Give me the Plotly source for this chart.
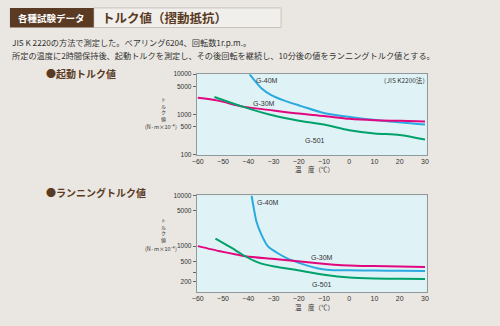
import plotly.graph_objects as go

# ---------------- data ----------------
temps_ticks = [-60, -50, -40, -30, -20, -10, 0, 10, 20, 30]

# Starting torque (起動トルク値)
s40_t = [-39.5, -34.8, -30.9, -25.7, -19.0, -10.1, 0.3, 13.3, 30]
s40_v = [10000, 4470, 3010, 2190, 1600, 1080, 860, 690, 553]
s30_t = [-60, -52, -42, -30, -20, -10, 0, 10, 20, 30]
s30_v = [2580, 2190, 1550, 1240, 1040, 907, 771, 711, 687, 661]
s501_t = [-53.4, -42, -30, -20, -10, 0, 10, 20, 30]
s501_v = [2700, 1530, 927, 690, 553, 402, 333, 305, 234]

# Running torque (ランニングトルク値)
r40_t = [-38.7, -36.8, -34.8, -32.2, -28.3, -24.4, -20.5, -16.6, -12.7, -8.8, -6, 0, 10, 20, 30]
r40_v = [10000, 3100, 1690, 987, 723, 566, 477, 412, 367, 340, 334, 332, 329, 327, 324]
r30_t = [-60, -51.7, -45.2, -40.6, -30.6, -20.4, -10.4, -6, 0, 10, 20, 30]
r30_v = [1000, 801, 692, 624, 561, 500, 450, 430, 412, 403, 394, 385]
r501_t = [-53, -45.2, -42.6, -36.2, -29.7, -19.2, -10, 0, 10, 20, 30]
r501_v = [1400, 837, 691, 477, 395, 327, 272, 239, 229, 226, 223]

y1_tickvals = [100, 500, 1000, 5000, 10000]
y1_ticktext = ["100", "500", "1000", "5000", "10000"]
y2_tickvals = [200, 300, 500, 1000, 5000, 10000]
y2_ticktext = ["200", "", "500", "1000", "5000", "10000"]

series_names = ["G-40M", "G-30M", "G-501"]

# ---------------- style ----------------
W, H = 500, 326
BG = "#EAE7E2"
PLOT_BG = "#DFF2F6"
BROWN = "#5A3A22"
C40 = "#2AAAE0"
C30 = "#E2077E"
C501 = "#00A26A"
FONT = "Liberation Sans, Noto Sans CJK JP, sans-serif"
JP = "Noto Sans CJK JP, sans-serif"


def px(x):
    return x / W


def py(y):
    return 1 - y / H


fig = go.Figure()

for (t, v, c) in [(s40_t, s40_v, C40), (s30_t, s30_v, C30), (s501_t, s501_v, C501)]:
    fig.add_trace(go.Scatter(x=t, y=v, mode="lines", line=dict(color=c, width=2, shape="spline", smoothing=0.8),
                             xaxis="x", yaxis="y", showlegend=False, hoverinfo="skip"))
for (t, v, c) in [(r40_t, r40_v, C40), (r30_t, r30_v, C30), (r501_t, r501_v, C501)]:
    fig.add_trace(go.Scatter(x=t, y=v, mode="lines", line=dict(color=c, width=2, shape="spline", smoothing=0.5),
                             xaxis="x2", yaxis="y2", showlegend=False, hoverinfo="skip"))

xdom = [px(194.5), px(427.5)]
xaxis_common = dict(range=[-60.4, 30.6], tickvals=temps_ticks, ticks="", showgrid=False, zeroline=False,
                    showline=True, mirror=True, linecolor="#8E9A9E", linewidth=1,
                    tickfont=dict(size=7, color="#333", family=FONT), fixedrange=True)
yaxis_common = dict(type="log", showgrid=False, zeroline=False, showline=True, mirror=True,
                    linecolor="#8E9A9E", linewidth=1, ticks="outside", ticklen=3, tickcolor="#666",
                    tickfont=dict(size=6.5, color="#333", family=FONT), fixedrange=True)

fig.update_layout(
    width=W, height=H, margin=dict(l=0, r=0, t=0, b=0),
    paper_bgcolor=BG, plot_bgcolor=PLOT_BG,
    xaxis=dict(domain=xdom, anchor="y", **xaxis_common),
    yaxis=dict(domain=[py(154.3), py(71.7)], anchor="x", range=[1.985, 4.0],
               tickvals=y1_tickvals, ticktext=y1_ticktext, **yaxis_common),
    xaxis2=dict(domain=xdom, anchor="y2", **xaxis_common),
    yaxis2=dict(domain=[py(294), py(195.7)], anchor="x2", range=[2.1, 4.0],
                tickvals=y2_tickvals, ticktext=y2_ticktext, **yaxis_common),
)

shapes = [
    dict(type="rect", xref="paper", yref="paper", x0=px(90), x1=px(280), y0=py(24), y1=py(4),
         fillcolor="#F1EFEB", line=dict(color="#C8C2BA", width=1), layer="below"),
    dict(type="rect", xref="paper", yref="paper", x0=px(5), x1=px(90), y0=py(24), y1=py(4),
         fillcolor=BROWN, line=dict(width=0), layer="below"),
]
fig.update_layout(shapes=shapes)

ann = []


def A(x, y, text, size, color="#333", bold=False, xanchor="center", family=FONT, **kw):
    t = f"<b>{text}</b>" if bold else text
    d = dict(x=px(x), y=py(y), xref="paper", yref="paper", text=t, showarrow=False,
             font=dict(size=size, color=color, family=family), xanchor=xanchor, yanchor="middle",
             borderpad=0)
    d.update(kw)
    ann.append(d)


A(47.5, 14, "各種試験データ", 9.5, color="white", bold=True, family=JP)
A(97, 14, "トルク値（摺動抵抗）", 12.5, color=BROWN, bold=True, xanchor="left", family=JP)
A(6, 39, "JIS K 2220の方法で測定した。ベアリング6204、回転数1r.p.m.。", 8.2, color="#333",
  xanchor="left", family=JP)
A(6, 52, "所定の温度に2時間保持後、起動トルクを測定し、その後回転を継続し、10分後の値をランニングトルク値とする。",
  8.2, color="#333", xanchor="left", family=JP)
A(41, 71, "●起動トルク値", 10, color=BROWN, bold=True, xanchor="left", family=JP)
A(41, 193, "●ランニングトルク値", 10, color=BROWN, bold=True, xanchor="left", family=JP)

# y-axis titles (vertical stacked characters)
for top in (96.5, 220.5):
    for i, ch in enumerate("トルク値"):
        A(161, top + i * 7, ch, 5, color="#333", family=JP)
    A(158, top + 29.5, "(N·m×10⁻⁴)", 5.5, color="#333", family=JP)
# x-axis titles
A(314, 168.3, "温　度（℃）", 6.5, color="#333", family=JP)
A(314, 310, "温　度（℃）", 6.5, color="#333", family=JP)

# curve labels (chart 1)
A(265.3, 77.7, series_names[0], 7)
A(262.7, 101.5, series_names[1], 7)
A(314.7, 139, series_names[2], 7)
A(405, 77.7, "（JIS K2200法）", 6.5, family=JP)
# curve labels (chart 2)
A(266.5, 203.3, series_names[0], 7)
A(321.7, 259, series_names[1], 7)
A(321.5, 287, series_names[2], 7)

fig.update_layout(annotations=ann)

fig.write_html("out.html")
